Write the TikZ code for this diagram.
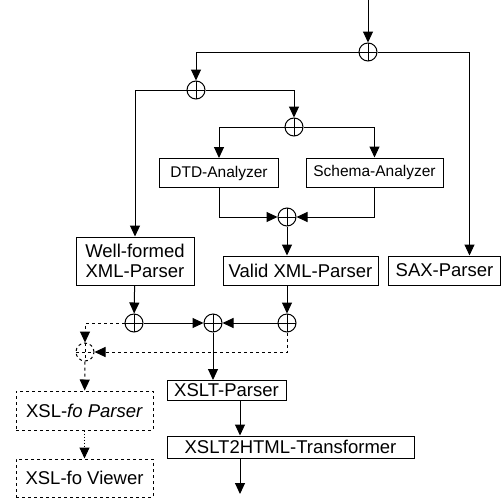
\documentclass[tikz,border=0pt]{standalone}
\usepackage{fontspec}
\setmainfont{Liberation Sans}
\usetikzlibrary{arrows.meta}

\tikzset{
  box/.style={draw, line width=1pt, inner sep=0pt, align=center, font=\fontsize{18.5}{20.5}\selectfont},
  smallbox/.style={box, font=\fontsize{15.5}{17}\selectfont},
  oplus/.style={circle, draw, line width=1pt, minimum size=18pt, inner sep=0pt,
    path picture={\draw[line width=1pt] (path picture bounding box.north) -- (path picture bounding box.south)
      (path picture bounding box.west) -- (path picture bounding box.east);}},
  arr/.style={line width=1pt, -{Triangle[length=11pt,width=10pt]}},
}

\begin{document}
\begin{tikzpicture}[x=1pt,y=-1pt]
\useasboundingbox (0,0) rectangle (502,498);
% junctions
\node[oplus] (c1) at (368,52) {};
\node[oplus] (c2) at (196,90) {};
\node[oplus] (c3) at (294,127) {};
\node[oplus] (c4) at (287,217) {};
\node[oplus] (c5) at (134,323) {};
\node[oplus] (c6) at (213,323) {};
\node[oplus] (c7) at (287,323) {};
\node[oplus, dashed] (c8) at (85,352) {};
% boxes
\node[smallbox, minimum width=119pt, minimum height=29pt] (dtd) at (219,173) {DTD-Analyzer};
\node[smallbox, minimum width=137pt, minimum height=29pt] (schema) at (374.5,172.5) {Schema-Analyzer};
\node[box, minimum width=118pt, minimum height=48pt] (wf) at (135,261) {Well-formed\\XML-Parser};
\node[box, minimum width=155pt, minimum height=29pt] (valid) at (300.5,270.5) {Valid XML-Parser};
\node[box, minimum width=112pt, minimum height=29pt] (sax) at (444.5,270.5) {SAX-Parser};
\node[box, minimum width=119pt, minimum height=20pt] (xslt) at (226.5,390.5) {XSLT-Parser};
\node[box, minimum width=247pt, minimum height=22pt] (xhtml) at (290.5,447) {XSLT2HTML-Transformer};
\node[box, dashed, minimum width=137pt, minimum height=39pt] (fop) at (84.5,410.5) {XSL-\textit{fo Parser}};
\node[box, dashed, minimum width=137pt, minimum height=38pt] (fov) at (84.5,478) {XSL-fo Viewer};
\coordinate (in) at (368,0);
\coordinate (t) at (240,0);
\coordinate (out) at (240,494);
% connectors
\draw[arr] (in) -- (c1);
\draw[arr] (c1) -| (c2);
\draw[arr] (c1) -| ([xshift=25pt]sax.north);
\draw[arr] (c2) -| (wf);
\draw[arr] (c2) -| (c3);
\draw[arr] (c3) -| (dtd);
\draw[arr] (c3) -| (schema);
\draw[arr] (dtd) |- (c4);
\draw[arr] (schema) |- (c4);
\draw[arr] (c4) -- (c4 |- valid.north);
\draw[arr] (wf) -- (c5);
\draw[arr] (valid.south -| c7) -- (c7);
\draw[arr] (c5) -- (c6);
\draw[arr] (c7) -- (c6);
\draw[arr] (c6) -- (c6 |- xslt.north);
\draw[arr] (xslt.south -| t) -- (xhtml.north -| t);
\draw[arr] (xhtml.south -| t) -- (out);
\draw[arr, dashed] (c5) -| (c8);
\draw[arr, dashed] (c7) |- (c8);
\draw[arr, dashed] (c8) -- (fop);
\draw[arr, dotted] (fop) -- (fov);
\end{tikzpicture}
\end{document}
